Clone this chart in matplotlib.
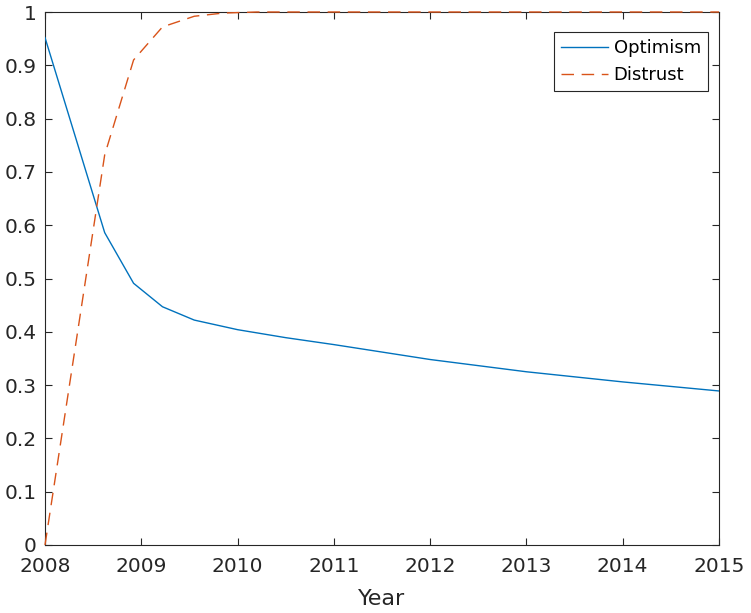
import matplotlib
matplotlib.use("Agg")
import matplotlib.pyplot as plt

years_opt = [2008.0, 2008.62, 2008.92, 2009.22, 2009.55, 2010.0, 2010.5, 2011.0,
             2012.0, 2013.0, 2014.0, 2015.0]
optimism = [0.952, 0.586, 0.491, 0.447, 0.422, 0.404, 0.389, 0.376,
            0.348, 0.325, 0.306, 0.289]

years_dis = [2008.0, 2008.62, 2008.92, 2009.22, 2009.55, 2009.85, 2010.2, 2011.0,
             2012.0, 2013.0, 2014.0, 2015.0]
distrust = [0.0, 0.732, 0.91, 0.972, 0.992, 0.998, 1.0, 1.0,
            1.0, 1.0, 1.0, 1.0]

xticks = [2008, 2009, 2010, 2011, 2012, 2013, 2014, 2015]
yticks = [0, 0.1, 0.2, 0.3, 0.4, 0.5, 0.6, 0.7, 0.8, 0.9, 1]
ytick_labels = ["0", "0.1", "0.2", "0.3", "0.4", "0.5", "0.6", "0.7", "0.8", "0.9", "1"]

blue = "#0072BD"
orange = "#D95319"
axcol = "#262626"

fig = plt.figure(figsize=(7.51, 6.13), dpi=100)
ax = fig.add_axes([45/751, 1-545/613, (719-45)/751, (545-12)/613])

ax.plot(years_opt, optimism, color=blue, lw=1.0, label="Optimism", zorder=3)
ax.plot(years_dis, distrust, color=orange, lw=1.0, dashes=(9, 5.5), label="Distrust",
        clip_on=False, zorder=4)

ax.set_xlim(2008, 2015)
ax.set_ylim(0, 1)
ax.set_xticks(xticks)
ax.set_xticklabels([str(x) for x in xticks])
ax.set_yticks(yticks)
ax.set_yticklabels(ytick_labels)
ax.tick_params(direction="in", top=True, right=True, length=5, width=0.8,
               colors=axcol, labelsize=14.5)
ax.tick_params(axis="x", pad=9)
ax.tick_params(axis="y", pad=6)
for s in ax.spines.values():
    s.set_color(axcol)
    s.set_linewidth(0.8)
ax.set_xlabel("Year", fontsize=16, color=axcol, labelpad=9)

leg = ax.legend(loc="upper right", bbox_to_anchor=(708/751, 1-32/613),
                bbox_transform=fig.transFigure, fontsize=13, frameon=True,
                fancybox=False, framealpha=1, edgecolor=axcol,
                handlelength=2.6, borderpad=0.4, labelspacing=0.5,
                handletextpad=0.3, borderaxespad=0)
leg.get_frame().set_linewidth(0.8)
for t in leg.get_texts():
    t.set_color("black")

fig.savefig("out.png", dpi=100)
